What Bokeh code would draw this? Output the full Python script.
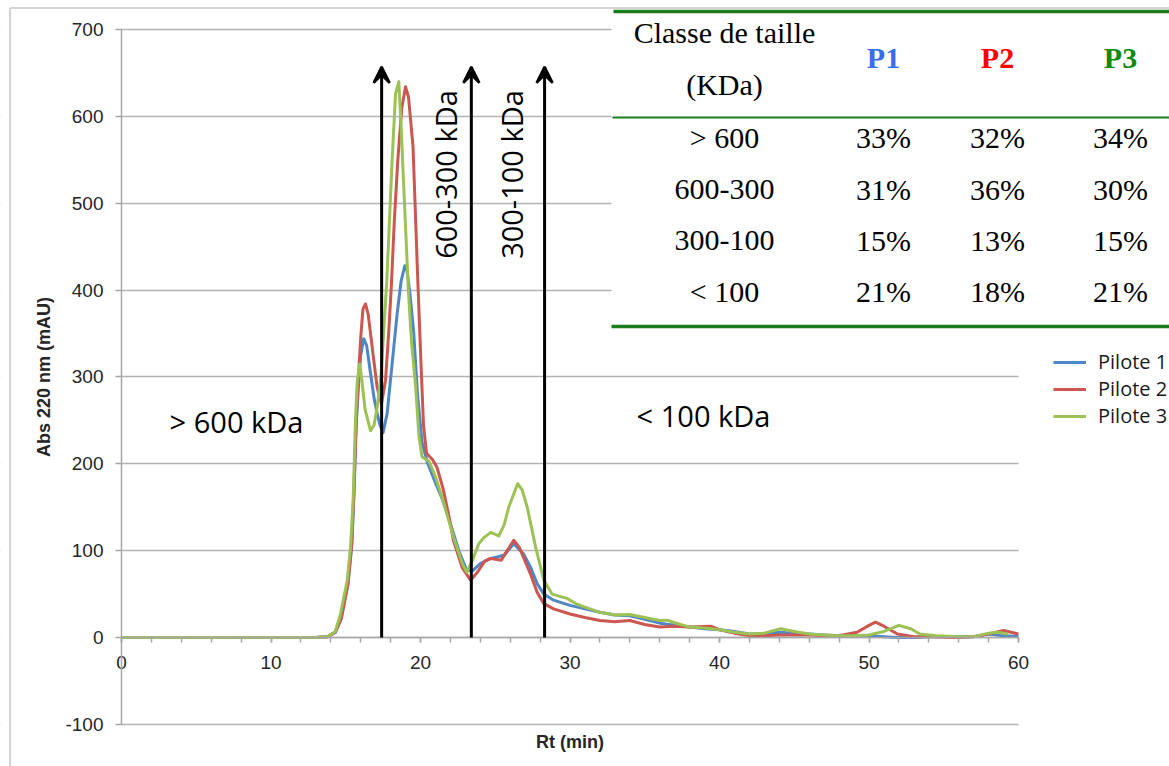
from math import pi
from bokeh.plotting import figure
from bokeh.models import (Range1d, SingleIntervalTicker, BoxAnnotation, Label, Legend,
                          LegendItem, Arrow, VeeHead, ColumnDataSource, NumeralTickFormatter)
from bokeh.core.properties import value
from bokeh.embed import file_html
from bokeh.resources import INLINE

# ---------------- data ----------------
rt1 = [0, 5, 10, 13, 13.8, 14.3, 14.7, 15.15, 15.4, 15.55, 15.7, 15.85, 16.0, 16.2, 16.4,
       16.66, 16.9, 17.1, 17.3, 17.5, 17.77, 18.1, 18.44, 18.7, 18.95, 19.1, 19.3, 19.55,
       19.8, 20.1, 20.45, 21.0, 21.4, 21.8, 22.2, 22.6, 23.1, 23.5, 24.0, 24.7, 25.2, 25.6,
       26.24, 26.9, 27.36, 27.8, 28.25, 28.9, 30, 31, 32, 33, 34, 35, 36, 37, 38, 39, 40,
       41, 42, 43, 44, 45, 46, 47, 48, 49, 50, 51, 52, 53, 54, 56, 57, 58, 59, 60]
abs1 = [0, 0, 0, 0, 1, 6, 22, 62, 105, 165, 245, 290, 325, 344, 336,
        304, 275, 258, 244, 236, 258, 315, 373, 410, 428, 422, 395, 350,
        280, 225, 202, 178, 162, 142, 120, 98, 77, 77, 85, 91, 93, 95,
        108, 96, 81, 62, 50, 43, 37, 33, 29, 26, 25, 21, 16.5, 14, 12, 10, 9,
        7, 4, 4, 6, 5, 4, 3, 2, 2, 2, 1, 0, 0, 1, 1, 1, 4, 2, 1]

rt2 = [0, 5, 10, 13, 13.8, 14.3, 14.7, 15.15, 15.4, 15.55, 15.7, 15.85, 16.0, 16.15, 16.32,
       16.5, 16.77, 17.1, 17.39, 17.66, 17.88, 18.05, 18.25, 18.48, 18.75, 19.0, 19.2, 19.5,
       19.8, 20.0, 20.2, 20.4, 20.8, 21.1, 21.5, 21.9, 22.2, 22.8, 23.35, 23.8, 24.3, 24.7,
       25.0, 25.4, 25.8, 26.24, 26.6, 26.9, 27.36, 27.8, 28.25, 28.9, 30, 31, 32, 33, 34,
       35, 36, 37, 38, 39.4, 40, 41, 42, 43, 44, 45, 46, 47, 48, 49.2, 50, 50.43, 51, 51.9,
       53, 54, 56, 57, 58, 59, 60]
abs2 = [0, 0, 0, 0, 1, 6, 22, 62, 108, 170, 250, 300, 345, 378, 384,
        372, 334, 288, 269, 296, 353, 405, 480, 549, 610, 634, 622, 565,
        420, 330, 245, 212, 205, 196, 172, 140, 112, 80, 66, 75, 88, 91,
        90, 89, 100, 112, 104, 92, 73, 52, 39, 33, 27, 23, 19.5, 18, 19.5,
        15, 12, 13, 12, 13, 9, 5, 2, 2, 3, 3, 3, 2, 2, 6, 14, 17.6, 13, 4,
        1, 1, 0, 1, 4, 8, 4]

rt3 = [0, 5, 10, 13, 13.8, 14.3, 14.65, 15.1, 15.32, 15.5, 15.65, 15.77, 15.94, 16.1, 16.3,
       16.66, 16.9, 17.1, 17.35, 17.55, 17.75, 18.1, 18.33, 18.55, 18.7, 18.9, 19.2, 19.4,
       19.67, 19.9, 20.1, 20.56, 21.0, 21.5, 22.2, 22.8, 23.1, 23.5, 23.9, 24.24, 24.7,
       25.24, 25.6, 25.9, 26.5, 26.8, 27.14, 27.7, 28.25, 28.8, 29.8, 30.5, 31, 32, 33, 34,
       35, 36, 36.5, 37, 38, 39, 40, 41, 42, 43, 44.1, 45, 46, 47, 48, 49, 50, 51, 52, 52.8,
       53.4, 54.5, 56, 57, 58, 58.6, 59.3]
abs3 = [0, 0, 0, 0, 1, 7, 27, 66, 104, 161, 250, 296, 315, 292, 262,
        238, 245, 265, 300, 355, 412, 549, 626, 640, 590, 511, 396, 340,
        290, 231, 208, 203, 185, 158, 116, 85, 75, 90, 108, 115, 121,
        117, 130, 150, 177, 170, 150, 104, 66, 50, 45, 38, 35, 29, 26, 26.5,
        23, 19.5, 20, 17, 12, 11, 9, 6, 4, 5, 10, 7, 4, 3, 2, 2, 3, 7, 14, 10,
        4, 2, 1, 1, 5, 6, 4]

series_names = ["Pilote 1", "Pilote 2", "Pilote 3"]
series_colors = ["#4f86c6", "#cc5650", "#9cc255"]

# fraction boundaries (arrows) and region labels
arrow_rt = [17.4, 23.4, 28.3]
arrow_top = 657
region_texts = ["> 600 kDa", "< 100 kDa", "600-300 kDa", "300-100 kDa"]

# table
size_classes = ["> 600", "600-300", "300-100", "< 100"]
p1_pct = ["33%", "31%", "15%", "21%"]
p2_pct = ["32%", "36%", "13%", "18%"]
p3_pct = ["34%", "30%", "15%", "21%"]
col_heads = ["P1", "P2", "P3"]
col_head_colors = ["#3a6cf0", "#ff0000", "#118a11"]

y_ticks_interval = 100
x_ticks_interval = 10

# ---------------- layout helpers (page pixels -> data) ----------------
FIG_W, FIG_H = 1169, 766
X0_PX, XS = 121.0, (1018.0 - 121.0) / 60.0
Y0_PX, YS = 637.0, (637.0 - 29.0) / 700.0


def px2x(px):
    return (px - X0_PX) / XS


def py2y(py):
    return (Y0_PX - py) / YS


XMIN, XMAX = px2x(0), px2x(FIG_W)
YMIN, YMAX = py2y(FIG_H), py2y(0)

p = figure(width=FIG_W, height=FIG_H, output_backend="svg", toolbar_location=None,
           title=None, x_range=Range1d(XMIN, XMAX), y_range=Range1d(YMIN, YMAX),
           min_border_left=0, min_border_right=0, min_border_top=0, min_border_bottom=0)
p.outline_line_color = None
p.background_fill_color = "white"
p.border_fill_color = "white"

# grid
p.xgrid.visible = False
p.ygrid.grid_line_color = "#b3b3b3"
p.ygrid.grid_line_width = 1.5

label_font = "Liberation Sans"
label_color = "#262626"

# y axis, fixed at x = 0
ya = p.yaxis[0]
ya.fixed_location = 0
ya.ticker = SingleIntervalTicker(interval=y_ticks_interval, num_minor_ticks=0)
ya.formatter = NumeralTickFormatter(format="0")
ya.bounds = (-100, 700)
ya.axis_line_color = "#a6a6a6"
ya.axis_line_width = 1.5
ya.major_tick_line_color = "#a6a6a6"
ya.major_tick_line_width = 1.5
ya.major_tick_in = 0
ya.major_tick_out = 6
ya.minor_tick_line_color = None
ya.major_label_standoff = 12
ya.major_label_text_font = label_font
ya.major_label_text_font_size = "19px"
ya.major_label_text_color = label_color
ya.axis_label = "Abs 220 nm (mAU)"
ya.axis_label_text_font = label_font
ya.axis_label_text_font_style = "bold"
ya.axis_label_text_font_size = "18px"
ya.axis_label_text_color = label_color
ya.axis_label_standoff = 8

# x axis, fixed at y = 0
xa = p.xaxis[0]
xa.fixed_location = 0
xa.ticker = SingleIntervalTicker(interval=x_ticks_interval, num_minor_ticks=5)
xa.bounds = (0, 60)
xa.axis_line_color = "#a6a6a6"
xa.axis_line_width = 1.5
xa.major_tick_line_color = "#a6a6a6"
xa.minor_tick_line_color = "#a6a6a6"
xa.major_tick_line_width = 1.5
xa.minor_tick_line_width = 1.5
xa.major_tick_in = 0
xa.major_tick_out = 5
xa.minor_tick_in = 0
xa.minor_tick_out = 5
xa.major_label_standoff = 13
xa.major_label_text_font = label_font
xa.major_label_text_font_size = "19px"
xa.major_label_text_color = label_color
xa.axis_label = "Rt (min)"
xa.axis_label_text_font = label_font
xa.axis_label_text_font_style = "bold"
xa.axis_label_text_font_size = "18px"
xa.axis_label_text_color = label_color
xa.axis_label_standoff = 60

# white covers (hide grid outside 0..60 min and beneath the table)
p.add_layout(BoxAnnotation(right=0, fill_color="white", fill_alpha=1, line_color=None,
                           level="underlay"))
p.add_layout(BoxAnnotation(left=60, fill_color="white", fill_alpha=1, line_color=None,
                           level="underlay"))
p.add_layout(BoxAnnotation(left=px2x(611), bottom=py2y(328), fill_color="white",
                           fill_alpha=1, line_color=None, level="underlay"))

# outer chart border (left and top)
bx, by = px2x(9.5), py2y(7.5)
p.segment(x0=[bx, bx], y0=[by, by], x1=[bx, XMAX], y1=[YMIN, by],
          line_color="#d4d4d4", line_width=2)

# data lines
renderers = []
for xs, ys, c in zip([rt1, rt2, rt3], [abs1, abs2, abs3], series_colors):
    r = p.line(xs, ys, line_color=c, line_width=3, line_join="round")
    renderers.append(r)

# arrows
asrc = ColumnDataSource(dict(x0=arrow_rt, y0=[0] * len(arrow_rt), x1=arrow_rt,
                             y1=[arrow_top] * len(arrow_rt)))
p.add_layout(Arrow(end=VeeHead(size=16, line_width=2.5, line_color="black"),
                   x_start="x0", y_start="y0", x_end="x1", y_end="y1",
                   line_width=3, line_color="black", source=asrc))

# region labels
region_font = "Open Sans"
region_pos = [(236, 421, 0), (703, 415, 0), (445, 174, pi / 2), (511, 174, pi / 2)]
for txt, (lx, ly, ang) in zip(region_texts, region_pos):
    p.add_layout(Label(x=px2x(lx), y=py2y(ly), text=txt, angle=ang, text_align="center",
                       text_baseline="middle", text_font=region_font,
                       text_font_size="29px", text_color="black"))

# table
col_x = [px2x(724), px2x(883), px2x(997), px2x(1120)]
row_y = [py2y(137), py2y(189), py2y(240), py2y(291)]
tx, ty, tt = [], [], []
for i, cls in enumerate(size_classes):
    for j, v in enumerate([cls, p1_pct[i], p2_pct[i], p3_pct[i]]):
        tx.append(col_x[j])
        ty.append(row_y[i])
        tt.append(v)
tx += [col_x[0], col_x[0]]
ty += [py2y(32), py2y(84)]
tt += ["Classe de taille", "(KDa)"]
p.text(x=tx, y=ty, text=tt, text_font=value("Liberation Serif"), text_font_size="30px",
       text_align="center", text_baseline="middle", text_color="black")
p.text(x=col_x[1:], y=[py2y(57)] * 3, text=col_heads, text_color=col_head_colors,
       text_font=value("Liberation Serif"), text_font_style="bold", text_font_size="30px",
       text_align="center", text_baseline="middle")
p.segment(x0=[px2x(613), px2x(612), px2x(611)], y0=[py2y(11), py2y(117), py2y(326)],
          x1=[XMAX] * 3, y1=[py2y(11), py2y(117), py2y(326)],
          line_color="#1b7d1b", line_width=[3.5, 2, 3.5])

# legend
legend = Legend(items=[LegendItem(label=n, renderers=[r]) for n, r in zip(series_names, renderers)],
                location=(1053, 337), padding=0, margin=0, spacing=0,
                glyph_width=33, glyph_height=20, label_height=20, label_standoff=12,
                label_text_font="Open Sans", label_text_font_size="20px",
                label_text_color="#1a1a1a", border_line_color=None,
                background_fill_alpha=0)
p.add_layout(legend)

open("out.html", "w").write(file_html(p, INLINE))
